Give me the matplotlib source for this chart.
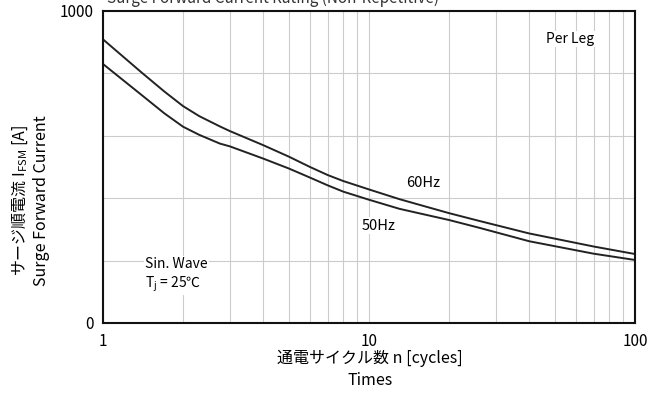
import numpy as np
import matplotlib.pyplot as plt
from matplotlib.ticker import FixedLocator, NullFormatter

plt.rcParams['font.family'] = ['Noto Sans CJK JP', 'DejaVu Sans']

# サイクル数と順電流 (60Hz / 50Hz)
cycles = [1, 1.4, 1.7, 2, 2.3, 2.75, 3, 4, 5, 6, 7, 8, 10, 13, 15, 20, 26, 40, 70, 100]
ifsm_60hz = [909, 802, 742, 695, 663, 630, 615, 570, 533, 500, 474, 455, 428, 397, 382,
             352, 327, 287, 245, 221]
ifsm_50hz = [830, 730, 672, 629, 603, 575, 566, 527, 495, 466, 441, 421, 395, 366, 354,
             330, 305, 262, 222, 202]

fig = plt.figure(figsize=(6.54, 3.99), dpi=100)
ax = fig.add_axes([0.1575, 0.1905, 0.8135, 0.782])

ax.plot(cycles, ifsm_60hz, color='#222222', lw=1.4)
ax.plot(cycles, ifsm_50hz, color='#222222', lw=1.4)

ax.set_xscale('log')
ax.set_xlim(1, 100)
ax.set_ylim(0, 1000)

ax.xaxis.set_major_locator(FixedLocator([1, 10, 100]))
ax.set_xticklabels(['1', '10', '100'])
minor = [m * d for d in (1, 10) for m in range(2, 10)]
ax.xaxis.set_minor_locator(FixedLocator(minor))
ax.xaxis.set_minor_formatter(NullFormatter())
ax.set_yticks([0, 1000])
ax.set_yticks([200, 400, 600, 800], minor=True)
ax.tick_params(which='both', length=0, labelsize=11, pad=7)

ax.grid(which='both', color='#cccccc', lw=0.8)
for s in ax.spines.values():
    s.set_linewidth(1.5)
    s.set_color('#111111')

box = dict(fc='white', ec='none', pad=1)
ax.text(16.0, 449, '60Hz', fontsize=10.5, ha='center', va='center', bbox=box)
ax.text(10.9, 311, '50Hz', fontsize=10.5, ha='center', va='center', bbox=box)
ax.text(57, 910, 'Per Leg', fontsize=10, ha='center', va='center', bbox=box)
ax.text(1.44, 188, 'Sin. Wave', fontsize=10, ha='left', va='center', bbox=box)
ax.text(1.44, 124, r'T$_\mathregular{j}$ = 25℃', fontsize=10, ha='left', va='center', bbox=box)

# 軸ラベル
fig.text(0.031, 0.497, 'サージ順電流 I$_\\mathregular{FSM}$ [A]', rotation=90,
         fontsize=11.5, ha='center', va='center')
fig.text(0.063, 0.497, 'Surge Forward Current', rotation=90,
         fontsize=11.5, ha='center', va='center')
fig.text(0.566, 0.103, '通電サイクル数 n [cycles]', fontsize=11.5, ha='center', va='center')
fig.text(0.566, 0.047, 'Times', fontsize=11.5, ha='center', va='center')

fig.text(0.163, 1 - 3 / 399, 'Surge Forward Current Rating (Non-Repetitive)', fontsize=11,
         ha='left', va='baseline', color='#333333')

fig.savefig('out.png', dpi=100)
